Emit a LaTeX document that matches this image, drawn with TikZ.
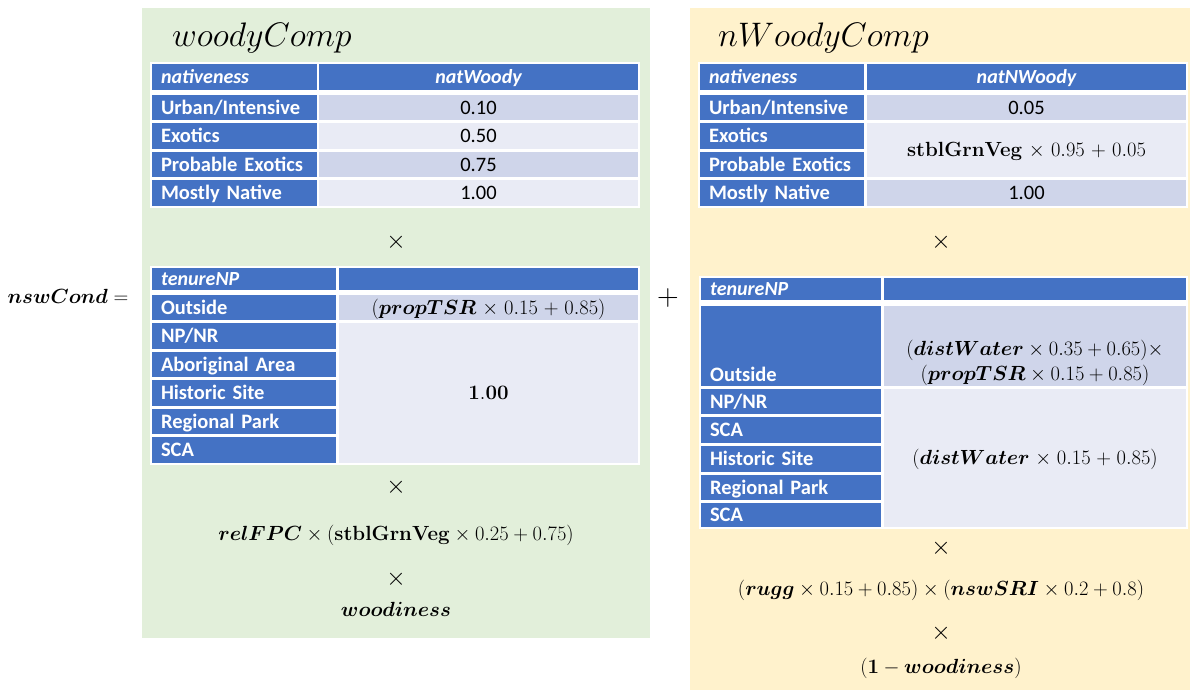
\RequirePackage{fix-cm}
\documentclass[tikz,border=0pt]{standalone}
\usepackage{amsmath,bm}
\usepackage[no-math]{fontspec}
\setmainfont{Carlito}

\definecolor{hdrblue}{HTML}{4472C4}
\definecolor{rowdark}{HTML}{CFD5EA}
\definecolor{rowlight}{HTML}{E9EBF5}
\definecolor{greenpanel}{HTML}{E2EFDA}
\definecolor{yellowpanel}{HTML}{FFF2CC}

% table cell: name, x1, y1, x2, y2, style, text
\newcommand\tcell[7]{%
  \pgfmathsetmacro\cellw{#4-#2}%
  \pgfmathsetmacro\cellh{#5-#3}%
  \pgfmathsetmacro\celltw{#4-#2-18}%
  \node[#6, minimum width=\cellw pt, minimum height=\cellh pt, text width=\celltw pt]
    (#1) at ({(#2+#4)/2},{(#3+#5)/2}) {#7};}

\tikzset{
  cellbase/.style={inner sep=0pt, outer sep=0pt},
  oneline/.style={text height=15pt, text depth=2pt},
  lab/.style={cellbase, oneline, fill=hdrblue, text=white, align=left,
    font=\fontsize{20.5}{24}\selectfont\bfseries},
  hdr/.style={lab, font=\fontsize{20}{23}\selectfont\bfseries\itshape},
  hdrc/.style={hdr, align=center},
  vdark/.style={cellbase, oneline, fill=rowdark, align=center, font=\fontsize{20.5}{24}\selectfont},
  vlight/.style={cellbase, oneline, fill=rowlight, align=center, font=\fontsize{20.5}{24}\selectfont},
  mfont/.style={font=\fontsize{20.5}{25}\selectfont},
  tblbg/.style={fill=white},
  mathtxt/.style={inner sep=0pt, mfont},
  timestxt/.style={inner sep=0pt, font=\fontsize{25}{28}\selectfont},
  titletxt/.style={inner sep=0pt, font=\fontsize{34}{40}\selectfont},
}

\begin{document}
\begin{tikzpicture}[x=1pt, y=-1pt]
\useasboundingbox[fill=white] (0,0) rectangle (1190,690);

% panels
\fill[greenpanel] (142,8) rectangle (650,638);
\fill[yellowpanel] (690,8) rectangle (1190,690);

% left-hand side of the equation
\node[mathtxt] (lhs) at (68,296) {$\bm{nswCond} =$};
\node[inner sep=0pt, font=\fontsize{30}{34}\selectfont] (plus) at (668,298) {$+$};

% ---------------- woody component ----------------
\node[titletxt, anchor=base west] (wtitle) at (172,47) {$woodyComp$};

\fill[tblbg] (150,62) rectangle (640,208);
\tcell{wn-h1}{152}{64}{317}{90}{hdr}{nativeness}
\tcell{wn-h2}{319}{64}{638}{90}{hdrc}{natWoody}
\tcell{wn-l1}{152}{95}{317}{120}{lab}{Urban/Intensive}
\tcell{wn-v1}{319}{95}{638}{120}{vdark}{0.10}
\tcell{wn-l2}{152}{123}{317}{149}{lab}{Exotics}
\tcell{wn-v2}{319}{123}{638}{149}{vlight}{0.50}
\tcell{wn-l3}{152}{152}{317}{177}{lab}{Probable Exotics}
\tcell{wn-v3}{319}{152}{638}{177}{vdark}{0.75}
\tcell{wn-l4}{152}{180}{317}{206}{lab}{Mostly Native}
\tcell{wn-v4}{319}{180}{638}{206}{vlight}{1.00}

\node[timestxt] (wx1) at (396,242) {$\times$};

\fill[tblbg] (150,266) rectangle (640,465);
\tcell{wt-h1}{152}{268}{336}{290}{hdr}{tenureNP}
\tcell{wt-h2}{339}{268}{638}{290}{hdr}{}
\tcell{wt-l1}{152}{295}{336}{320}{lab}{Outside}
\tcell{wt-v1}{339}{295}{638}{320}{vdark, mfont}{$(\bm{propTSR}\times 0.15+0.85)$}
\tcell{wt-l2}{152}{323}{336}{349}{lab}{NP/NR}
\tcell{wt-l3}{152}{352}{336}{377}{lab}{Aboriginal Area}
\tcell{wt-l4}{152}{380}{336}{406}{lab}{Historic Site}
\tcell{wt-l5}{152}{409}{336}{434}{lab}{Regional Park}
\tcell{wt-l6}{152}{437}{336}{463}{lab}{SCA}
\tcell{wt-v2}{339}{323}{638}{463}{vlight, mfont}{$\mathbf{1.00}$}

\node[timestxt] (wx2) at (396,487) {$\times$};
\node[mathtxt] (wfpc) at (396,535) {$\bm{relFPC}\times(\mathbf{stblGrnVeg}\times 0.25+0.75)$};
\node[timestxt] (wx3) at (396,579) {$\times$};
\node[mathtxt] (wwood) at (396,609) {$\bm{woodiness}$};

% ---------------- non-woody component ----------------
\node[titletxt, anchor=base west] (ntitle) at (718,47) {$nWoodyComp$};

\fill[tblbg] (698,62) rectangle (1188,208);
\tcell{nn-h1}{700}{64}{864}{90}{hdr}{nativeness}
\tcell{nn-h2}{867}{64}{1186}{90}{hdrc}{natNWoody}
\tcell{nn-l1}{700}{95}{864}{120}{lab}{Urban/Intensive}
\tcell{nn-v1}{867}{95}{1186}{120}{vdark}{0.05}
\tcell{nn-l2}{700}{123}{864}{149}{lab}{Exotics}
\tcell{nn-l3}{700}{152}{864}{177}{lab}{Probable Exotics}
\tcell{nn-v2}{867}{123}{1186}{177}{vlight, mfont}{$\mathbf{stblGrnVeg}\times 0.95+0.05$}
\tcell{nn-l4}{700}{180}{864}{206}{lab}{Mostly Native}
\tcell{nn-v4}{867}{180}{1186}{206}{vdark}{1.00}

\node[timestxt] (nx1) at (941,242) {$\times$};

\fill[tblbg] (699,276) rectangle (1188,529);
\tcell{nt-h1}{701}{278}{881}{300}{hdr}{tenureNP}
\tcell{nt-h2}{884}{278}{1186}{300}{hdr}{}
\tcell{nt-l1}{701}{306}{881}{386}{lab}{}
\node[anchor=base west, inner sep=0pt, text=white, font=\fontsize{20.5}{24}\selectfont\bfseries]
  (nt-l1t) at (710,381) {Outside};
\tcell{nt-v1}{884}{306}{1186}{386}{vdark}{}
\node[mathtxt, align=center, font=\fontsize{20.5}{24.5}\selectfont] (nt-v1t) at (1035,363)
  {$(\bm{distWater}\times 0.35+0.65)\times$\\$(\bm{propTSR}\times 0.15+0.85)$};
\tcell{nt-l2}{701}{389}{881}{414}{lab}{NP/NR}
\tcell{nt-l3}{701}{417}{881}{443}{lab}{SCA}
\tcell{nt-l4}{701}{446}{881}{472}{lab}{Historic Site}
\tcell{nt-l5}{701}{475}{881}{500}{lab}{Regional Park}
\tcell{nt-l6}{701}{503}{881}{527}{lab}{SCA}
\tcell{nt-v2}{884}{389}{1186}{527}{vlight, mfont}{$(\bm{distWater}\times 0.15+0.85)$}

\node[timestxt] (nx2) at (941,548) {$\times$};
\node[mathtxt] (nrugg) at (941,590) {$(\bm{rugg}\times 0.15+0.85)\times(\bm{nswSRI}\times 0.2+0.8)$};
\node[timestxt] (nx3) at (941,633) {$\times$};
\node[mathtxt] (nwood) at (941,668) {$(\mathbf{1}-\bm{woodiness})$};
\end{tikzpicture}
\end{document}
